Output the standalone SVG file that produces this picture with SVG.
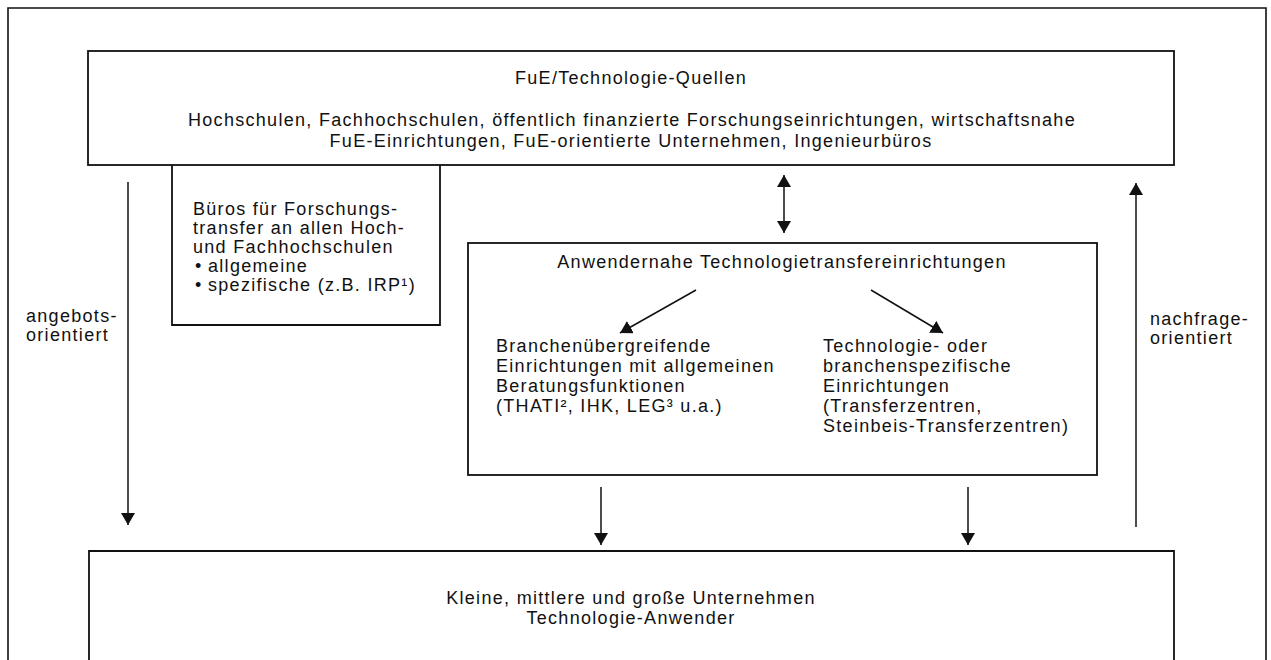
<svg xmlns="http://www.w3.org/2000/svg" width="1271" height="660" viewBox="0 0 1271 660">
<style>
  .box { fill: none; stroke: #111; stroke-width: 1.8; }
  .frame { fill: none; stroke: #111; stroke-width: 1.6; }
  .conn { fill: none; stroke: #111; stroke-width: 1.5; }
  text { font-family: "Liberation Sans", Arial, Helvetica, sans-serif; font-size: 18px; fill: #111; letter-spacing: 1.3px; }
  .c { text-anchor: middle; }
</style>
<defs>
  <marker id="ah" viewBox="0 0 12 14" refX="12" refY="7" markerWidth="12" markerHeight="14" markerUnits="userSpaceOnUse" orient="auto-start-reverse">
    <path d="M0,0 L12,7 L0,14 Z" fill="#111"/>
  </marker>
</defs>
<rect width="1271" height="660" fill="#fff"/>

<g id="frame">
  <path class="frame" d="M8,670 L8,8 L1266,8 L1266,670"/>
</g>

<g id="node-quellen">
  <rect class="box" x="88" y="51" width="1086" height="114"/>
  <text class="c" x="631" y="84">FuE/Technologie-Quellen</text>
  <text class="c" x="632" y="126">Hochschulen, Fachhochschulen, öffentlich finanzierte Forschungseinrichtungen, wirtschaftsnahe</text>
  <text class="c" x="631" y="147">FuE-Einrichtungen, FuE-orientierte Unternehmen, Ingenieurbüros</text>
</g>

<g id="node-bueros">
  <path class="box" d="M172,165 L172,325 L440,325 L440,165"/>
  <text x="193" y="215">Büros für Forschungs-</text>
  <text x="193" y="234">transfer an allen Hoch-</text>
  <text x="193" y="253">und Fachhochschulen</text>
  <text x="195" y="272">•</text><text x="208" y="272">allgemeine</text>
  <text x="195" y="291">•</text><text x="208" y="291">spezifische (z.B. IRP¹)</text>
</g>

<g id="node-anwendernahe">
  <rect class="box" x="468" y="243" width="629" height="232"/>
  <text class="c" x="782" y="268">Anwendernahe Technologietransfereinrichtungen</text>
  <g id="node-branchenuebergreifend">
    <text x="496" y="352">Branchenübergreifende</text>
    <text x="496" y="372">Einrichtungen mit allgemeinen</text>
    <text x="496" y="392">Beratungsfunktionen</text>
    <text x="496" y="412">(THATI², IHK, LEG³ u.a.)</text>
  </g>
  <g id="node-branchenspezifisch">
    <text x="823" y="352">Technologie- oder</text>
    <text x="823" y="372">branchenspezifische</text>
    <text x="823" y="392">Einrichtungen</text>
    <text x="823" y="412">(Transferzentren,</text>
    <text x="823" y="432">Steinbeis-Transferzentren)</text>
  </g>
</g>

<g id="node-unternehmen">
  <path class="box" d="M89,670 L89,551 L1174,551 L1174,670"/>
  <text class="c" x="631" y="604">Kleine, mittlere und große Unternehmen</text>
  <text class="c" x="631" y="624">Technologie-Anwender</text>
</g>

<g id="labels">
  <text x="26" y="322">angebots-</text>
  <text x="26" y="341">orientiert</text>
  <text x="1150" y="325">nachfrage-</text>
  <text x="1150" y="344">orientiert</text>
</g>

<g id="connectors">
  <line class="conn" x1="784" y1="175" x2="784" y2="233" marker-start="url(#ah)" marker-end="url(#ah)"/>
  <line class="conn" x1="128" y1="182" x2="128" y2="525" marker-end="url(#ah)"/>
  <line class="conn" x1="1136" y1="527" x2="1136" y2="183" marker-end="url(#ah)"/>
  <line class="conn" x1="601" y1="487" x2="601" y2="545" marker-end="url(#ah)"/>
  <line class="conn" x1="968" y1="487" x2="968" y2="545" marker-end="url(#ah)"/>
  <line class="conn" x1="696" y1="290" x2="620" y2="333" marker-end="url(#ah)"/>
  <line class="conn" x1="871" y1="290" x2="943" y2="333" marker-end="url(#ah)"/>
</g>
</svg>
